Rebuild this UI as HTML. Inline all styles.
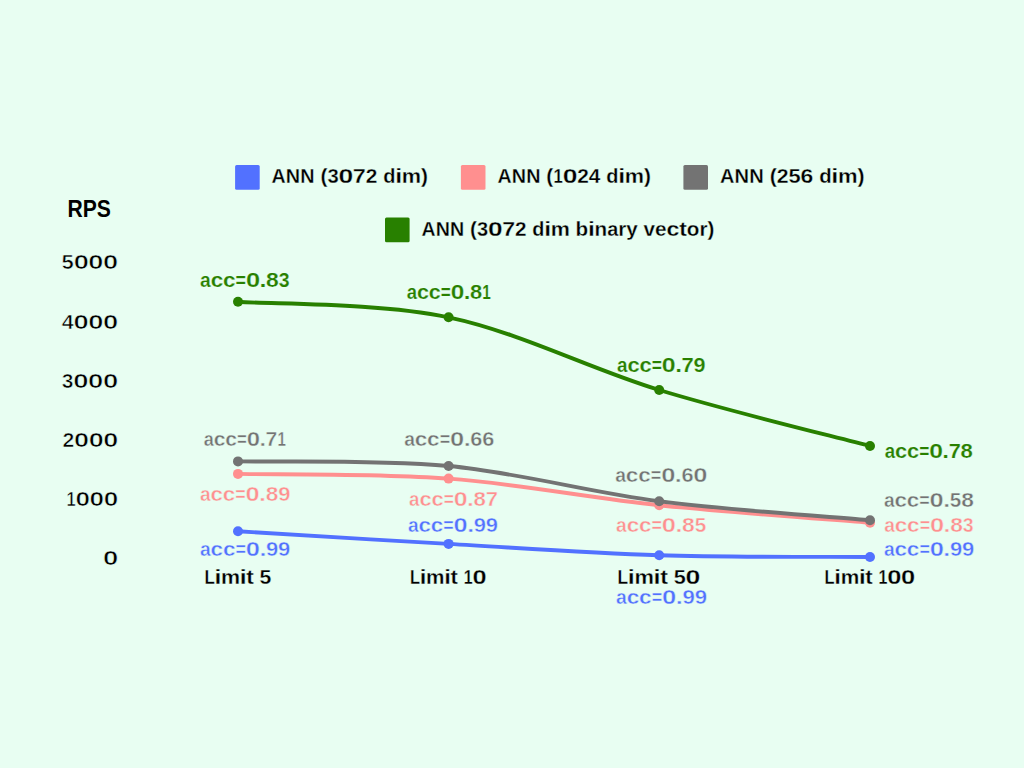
<!DOCTYPE html>
<html><head><meta charset="utf-8"><style>
html,body{margin:0;padding:0;background:#E8FEF2;width:1024px;height:768px;overflow:hidden}
svg{display:block}
text{font-family:"Liberation Sans",sans-serif}
</style></head><body>
<svg width="1024" height="768" viewBox="0 0 1024 768">
<rect width="1024" height="768" fill="#E8FEF2"/>
<rect x="235.1" y="165.0" width="24.6" height="24.7" rx="1.5" fill="#5271FF"/>
<rect x="460.9" y="165.0" width="24.6" height="24.7" rx="1.5" fill="#FF8F8F"/>
<rect x="683.4" y="165.0" width="24.6" height="24.7" rx="1.5" fill="#737373"/>
<rect x="385.0" y="217.6" width="24.6" height="24.7" rx="1.5" fill="#288000"/>
<text y="182.90" font-size="20.4" font-weight="bold" fill="#000000" stroke="#E8FEF2" stroke-width="0.3"><tspan x="271.56" textLength="14.16" lengthAdjust="spacingAndGlyphs">A</tspan><tspan x="285.83" textLength="14.31" lengthAdjust="spacingAndGlyphs">N</tspan><tspan x="300.28" textLength="14.31" lengthAdjust="spacingAndGlyphs">N</tspan> <tspan x="320.46" textLength="6.95" lengthAdjust="spacingAndGlyphs">(</tspan><tspan x="327.42" textLength="11.26" lengthAdjust="spacingAndGlyphs">3</tspan><tspan x="338.48" textLength="14.74" lengthAdjust="spacingAndGlyphs">0</tspan><tspan x="352.88" textLength="13.00" lengthAdjust="spacingAndGlyphs">7</tspan><tspan x="365.76" textLength="11.60" lengthAdjust="spacingAndGlyphs">2</tspan> <tspan x="383.20" textLength="12.23" lengthAdjust="spacingAndGlyphs">d</tspan><tspan x="395.19" textLength="6.96" lengthAdjust="spacingAndGlyphs">i</tspan><tspan x="401.80" textLength="19.29" lengthAdjust="spacingAndGlyphs">m</tspan><tspan x="421.04" textLength="6.95" lengthAdjust="spacingAndGlyphs">)</tspan></text>
<text y="182.90" font-size="20.4" font-weight="bold" fill="#000000" stroke="#E8FEF2" stroke-width="0.3"><tspan x="497.56" textLength="14.14" lengthAdjust="spacingAndGlyphs">A</tspan><tspan x="511.80" textLength="14.29" lengthAdjust="spacingAndGlyphs">N</tspan><tspan x="526.23" textLength="14.29" lengthAdjust="spacingAndGlyphs">N</tspan> <tspan x="546.37" textLength="6.93" lengthAdjust="spacingAndGlyphs">(</tspan><tspan x="553.56" textLength="9.26" lengthAdjust="spacingAndGlyphs">1</tspan><tspan x="562.72" textLength="14.71" lengthAdjust="spacingAndGlyphs">0</tspan><tspan x="577.20" textLength="11.58" lengthAdjust="spacingAndGlyphs">2</tspan><tspan x="588.78" textLength="11.58" lengthAdjust="spacingAndGlyphs">4</tspan> <tspan x="606.18" textLength="12.21" lengthAdjust="spacingAndGlyphs">d</tspan><tspan x="618.16" textLength="6.94" lengthAdjust="spacingAndGlyphs">i</tspan><tspan x="624.75" textLength="19.26" lengthAdjust="spacingAndGlyphs">m</tspan><tspan x="643.95" textLength="6.93" lengthAdjust="spacingAndGlyphs">)</tspan></text>
<text y="182.90" font-size="20.4" font-weight="bold" fill="#000000" stroke="#E8FEF2" stroke-width="0.3"><tspan x="719.95" textLength="14.40" lengthAdjust="spacingAndGlyphs">A</tspan><tspan x="734.46" textLength="14.55" lengthAdjust="spacingAndGlyphs">N</tspan><tspan x="749.15" textLength="14.55" lengthAdjust="spacingAndGlyphs">N</tspan> <tspan x="769.66" textLength="7.06" lengthAdjust="spacingAndGlyphs">(</tspan><tspan x="776.72" textLength="11.80" lengthAdjust="spacingAndGlyphs">2</tspan><tspan x="788.50" textLength="12.15" lengthAdjust="spacingAndGlyphs">5</tspan><tspan x="800.57" textLength="12.74" lengthAdjust="spacingAndGlyphs">6</tspan> <tspan x="819.17" textLength="12.44" lengthAdjust="spacingAndGlyphs">d</tspan><tspan x="831.37" textLength="7.07" lengthAdjust="spacingAndGlyphs">i</tspan><tspan x="838.08" textLength="19.61" lengthAdjust="spacingAndGlyphs">m</tspan><tspan x="857.64" textLength="7.06" lengthAdjust="spacingAndGlyphs">)</tspan></text>
<text y="235.90" font-size="20.4" font-weight="bold" fill="#000000" stroke="#E8FEF2" stroke-width="0.3"><tspan x="421.57" textLength="14.05" lengthAdjust="spacingAndGlyphs">A</tspan><tspan x="435.72" textLength="14.20" lengthAdjust="spacingAndGlyphs">N</tspan><tspan x="450.06" textLength="14.20" lengthAdjust="spacingAndGlyphs">N</tspan> <tspan x="470.08" textLength="6.89" lengthAdjust="spacingAndGlyphs">(</tspan><tspan x="476.99" textLength="11.17" lengthAdjust="spacingAndGlyphs">3</tspan><tspan x="487.95" textLength="14.62" lengthAdjust="spacingAndGlyphs">0</tspan><tspan x="502.24" textLength="12.89" lengthAdjust="spacingAndGlyphs">7</tspan><tspan x="515.02" textLength="11.51" lengthAdjust="spacingAndGlyphs">2</tspan> <tspan x="532.32" textLength="12.14" lengthAdjust="spacingAndGlyphs">d</tspan><tspan x="544.22" textLength="6.90" lengthAdjust="spacingAndGlyphs">i</tspan><tspan x="550.78" textLength="19.14" lengthAdjust="spacingAndGlyphs">m</tspan> <tspan x="575.62" textLength="12.64" lengthAdjust="spacingAndGlyphs">b</tspan><tspan x="587.97" textLength="6.90" lengthAdjust="spacingAndGlyphs">i</tspan><tspan x="594.58" textLength="12.64" lengthAdjust="spacingAndGlyphs">n</tspan><tspan x="607.25" textLength="11.05" lengthAdjust="spacingAndGlyphs">a</tspan><tspan x="618.29" textLength="8.06" lengthAdjust="spacingAndGlyphs">r</tspan><tspan x="626.35" textLength="11.51" lengthAdjust="spacingAndGlyphs">y</tspan> <tspan x="643.61" textLength="11.51" lengthAdjust="spacingAndGlyphs">v</tspan><tspan x="655.12" textLength="11.51" lengthAdjust="spacingAndGlyphs">e</tspan><tspan x="666.54" textLength="12.89" lengthAdjust="spacingAndGlyphs">c</tspan><tspan x="679.33" textLength="7.58" lengthAdjust="spacingAndGlyphs">t</tspan><tspan x="686.89" textLength="12.64" lengthAdjust="spacingAndGlyphs">o</tspan><tspan x="699.53" textLength="8.06" lengthAdjust="spacingAndGlyphs">r</tspan><tspan x="707.59" textLength="6.89" lengthAdjust="spacingAndGlyphs">)</tspan></text>
<text y="217.10" font-size="24.5" font-weight="bold" fill="#000000"><tspan x="67.49" textLength="15.26" lengthAdjust="spacingAndGlyphs">R</tspan><tspan x="82.74" textLength="14.09" lengthAdjust="spacingAndGlyphs">P</tspan><tspan x="96.83" textLength="14.09" lengthAdjust="spacingAndGlyphs">S</tspan></text>
<text y="268.60" font-size="20.6" font-weight="bold" fill="#000000" stroke="#E8FEF2" stroke-width="0.6"><tspan x="61.62" textLength="12.30" lengthAdjust="spacingAndGlyphs">5</tspan><tspan x="73.67" textLength="15.16" lengthAdjust="spacingAndGlyphs">0</tspan><tspan x="88.36" textLength="15.16" lengthAdjust="spacingAndGlyphs">0</tspan><tspan x="103.06" textLength="15.16" lengthAdjust="spacingAndGlyphs">0</tspan></text>
<text y="329.10" font-size="20.6" font-weight="bold" fill="#000000" stroke="#E8FEF2" stroke-width="0.6"><tspan x="61.67" textLength="12.00" lengthAdjust="spacingAndGlyphs">4</tspan><tspan x="73.44" textLength="15.24" lengthAdjust="spacingAndGlyphs">0</tspan><tspan x="88.21" textLength="15.24" lengthAdjust="spacingAndGlyphs">0</tspan><tspan x="102.98" textLength="15.24" lengthAdjust="spacingAndGlyphs">0</tspan></text>
<text y="388.00" font-size="20.6" font-weight="bold" fill="#000000" stroke="#E8FEF2" stroke-width="0.6"><tspan x="61.72" textLength="11.70" lengthAdjust="spacingAndGlyphs">3</tspan><tspan x="73.21" textLength="15.32" lengthAdjust="spacingAndGlyphs">0</tspan><tspan x="88.06" textLength="15.32" lengthAdjust="spacingAndGlyphs">0</tspan><tspan x="102.91" textLength="15.32" lengthAdjust="spacingAndGlyphs">0</tspan></text>
<text y="447.10" font-size="20.6" font-weight="bold" fill="#000000" stroke="#E8FEF2" stroke-width="0.6"><tspan x="62.46" textLength="11.85" lengthAdjust="spacingAndGlyphs">2</tspan><tspan x="74.08" textLength="15.05" lengthAdjust="spacingAndGlyphs">0</tspan><tspan x="88.67" textLength="15.05" lengthAdjust="spacingAndGlyphs">0</tspan><tspan x="103.26" textLength="15.05" lengthAdjust="spacingAndGlyphs">0</tspan></text>
<text y="505.90" font-size="20.6" font-weight="bold" fill="#000000" stroke="#E8FEF2" stroke-width="0.6"><tspan x="66.46" textLength="9.16" lengthAdjust="spacingAndGlyphs">1</tspan><tspan x="75.52" textLength="14.55" lengthAdjust="spacingAndGlyphs">0</tspan><tspan x="89.62" textLength="14.55" lengthAdjust="spacingAndGlyphs">0</tspan><tspan x="103.72" textLength="14.55" lengthAdjust="spacingAndGlyphs">0</tspan></text>
<text y="564.80" font-size="20.6" font-weight="bold" fill="#000000" stroke="#E8FEF2" stroke-width="0.6"><tspan x="103.01" textLength="15.32" lengthAdjust="spacingAndGlyphs">0</tspan></text>
<text y="583.90" font-size="20.9" font-weight="bold" fill="#000000" stroke="#E8FEF2" stroke-width="0.3"><tspan x="204.42" textLength="10.33" lengthAdjust="spacingAndGlyphs">L</tspan><tspan x="214.57" textLength="6.88" lengthAdjust="spacingAndGlyphs">i</tspan><tspan x="221.10" textLength="19.07" lengthAdjust="spacingAndGlyphs">m</tspan><tspan x="239.83" textLength="6.88" lengthAdjust="spacingAndGlyphs">i</tspan><tspan x="246.39" textLength="7.55" lengthAdjust="spacingAndGlyphs">t</tspan> <tspan x="259.63" textLength="11.81" lengthAdjust="spacingAndGlyphs">5</tspan></text>
<text y="583.90" font-size="20.9" font-weight="bold" fill="#000000" stroke="#E8FEF2" stroke-width="0.3"><tspan x="409.96" textLength="9.99" lengthAdjust="spacingAndGlyphs">L</tspan><tspan x="419.78" textLength="6.65" lengthAdjust="spacingAndGlyphs">i</tspan><tspan x="426.09" textLength="18.44" lengthAdjust="spacingAndGlyphs">m</tspan><tspan x="444.21" textLength="6.65" lengthAdjust="spacingAndGlyphs">i</tspan><tspan x="450.55" textLength="7.31" lengthAdjust="spacingAndGlyphs">t</tspan> <tspan x="463.63" textLength="8.87" lengthAdjust="spacingAndGlyphs">1</tspan><tspan x="472.40" textLength="14.09" lengthAdjust="spacingAndGlyphs">0</tspan></text>
<text y="583.80" font-size="20.9" font-weight="bold" fill="#000000" stroke="#E8FEF2" stroke-width="0.3"><tspan x="617.45" textLength="10.53" lengthAdjust="spacingAndGlyphs">L</tspan><tspan x="627.80" textLength="7.01" lengthAdjust="spacingAndGlyphs">i</tspan><tspan x="634.45" textLength="19.43" lengthAdjust="spacingAndGlyphs">m</tspan><tspan x="653.53" textLength="7.01" lengthAdjust="spacingAndGlyphs">i</tspan><tspan x="660.22" textLength="7.70" lengthAdjust="spacingAndGlyphs">t</tspan> <tspan x="673.71" textLength="12.04" lengthAdjust="spacingAndGlyphs">5</tspan><tspan x="685.50" textLength="14.84" lengthAdjust="spacingAndGlyphs">0</tspan></text>
<text y="584.00" font-size="20.9" font-weight="bold" fill="#000000" stroke="#E8FEF2" stroke-width="0.3"><tspan x="824.45" textLength="10.05" lengthAdjust="spacingAndGlyphs">L</tspan><tspan x="834.33" textLength="6.69" lengthAdjust="spacingAndGlyphs">i</tspan><tspan x="840.69" textLength="18.56" lengthAdjust="spacingAndGlyphs">m</tspan><tspan x="858.92" textLength="6.69" lengthAdjust="spacingAndGlyphs">i</tspan><tspan x="865.30" textLength="7.35" lengthAdjust="spacingAndGlyphs">t</tspan> <tspan x="878.45" textLength="8.93" lengthAdjust="spacingAndGlyphs">1</tspan><tspan x="887.28" textLength="14.18" lengthAdjust="spacingAndGlyphs">0</tspan><tspan x="901.02" textLength="14.18" lengthAdjust="spacingAndGlyphs">0</tspan></text>
<text y="286.80" font-size="19.4" font-weight="bold" fill="#288000" stroke="#E8FEF2" stroke-width="0.2"><tspan x="200.03" textLength="10.73" lengthAdjust="spacingAndGlyphs">a</tspan><tspan x="210.67" textLength="12.52" lengthAdjust="spacingAndGlyphs">c</tspan><tspan x="223.03" textLength="12.52" lengthAdjust="spacingAndGlyphs">c</tspan><tspan x="235.57" textLength="10.45" lengthAdjust="spacingAndGlyphs">=</tspan><tspan x="245.90" textLength="14.20" lengthAdjust="spacingAndGlyphs">0</tspan><tspan x="259.54" textLength="6.98" lengthAdjust="spacingAndGlyphs">.</tspan><tspan x="266.08" textLength="12.75" lengthAdjust="spacingAndGlyphs">8</tspan><tspan x="278.76" textLength="10.85" lengthAdjust="spacingAndGlyphs">3</tspan></text>
<text y="298.90" font-size="19.4" font-weight="bold" fill="#288000" stroke="#E8FEF2" stroke-width="0.2"><tspan x="406.76" textLength="10.28" lengthAdjust="spacingAndGlyphs">a</tspan><tspan x="416.94" textLength="11.99" lengthAdjust="spacingAndGlyphs">c</tspan><tspan x="428.77" textLength="11.99" lengthAdjust="spacingAndGlyphs">c</tspan><tspan x="440.79" textLength="10.01" lengthAdjust="spacingAndGlyphs">=</tspan><tspan x="450.67" textLength="13.60" lengthAdjust="spacingAndGlyphs">0</tspan><tspan x="463.73" textLength="6.69" lengthAdjust="spacingAndGlyphs">.</tspan><tspan x="470.00" textLength="12.21" lengthAdjust="spacingAndGlyphs">8</tspan><tspan x="482.36" textLength="8.57" lengthAdjust="spacingAndGlyphs">1</tspan></text>
<text y="371.80" font-size="19.4" font-weight="bold" fill="#288000" stroke="#E8FEF2" stroke-width="0.2"><tspan x="617.05" textLength="10.48" lengthAdjust="spacingAndGlyphs">a</tspan><tspan x="627.43" textLength="12.23" lengthAdjust="spacingAndGlyphs">c</tspan><tspan x="639.50" textLength="12.23" lengthAdjust="spacingAndGlyphs">c</tspan><tspan x="651.75" textLength="10.20" lengthAdjust="spacingAndGlyphs">=</tspan><tspan x="661.84" textLength="13.87" lengthAdjust="spacingAndGlyphs">0</tspan><tspan x="675.15" textLength="6.82" lengthAdjust="spacingAndGlyphs">.</tspan><tspan x="681.53" textLength="12.23" lengthAdjust="spacingAndGlyphs">7</tspan><tspan x="693.59" textLength="12.01" lengthAdjust="spacingAndGlyphs">9</tspan></text>
<text y="457.70" font-size="19.4" font-weight="bold" fill="#288000" stroke="#E8FEF2" stroke-width="0.2"><tspan x="884.75" textLength="10.40" lengthAdjust="spacingAndGlyphs">a</tspan><tspan x="895.05" textLength="12.13" lengthAdjust="spacingAndGlyphs">c</tspan><tspan x="907.02" textLength="12.13" lengthAdjust="spacingAndGlyphs">c</tspan><tspan x="919.17" textLength="10.12" lengthAdjust="spacingAndGlyphs">=</tspan><tspan x="929.17" textLength="13.75" lengthAdjust="spacingAndGlyphs">0</tspan><tspan x="942.37" textLength="6.76" lengthAdjust="spacingAndGlyphs">.</tspan><tspan x="948.70" textLength="12.13" lengthAdjust="spacingAndGlyphs">7</tspan><tspan x="960.64" textLength="12.34" lengthAdjust="spacingAndGlyphs">8</tspan></text>
<text y="445.90" font-size="19.4" font-weight="bold" fill="#737373" stroke="#E8FEF2" stroke-width="0.4"><tspan x="203.67" textLength="10.07" lengthAdjust="spacingAndGlyphs">a</tspan><tspan x="213.65" textLength="11.75" lengthAdjust="spacingAndGlyphs">c</tspan><tspan x="225.25" textLength="11.75" lengthAdjust="spacingAndGlyphs">c</tspan><tspan x="237.02" textLength="9.81" lengthAdjust="spacingAndGlyphs">=</tspan><tspan x="246.71" textLength="13.33" lengthAdjust="spacingAndGlyphs">0</tspan><tspan x="259.51" textLength="6.55" lengthAdjust="spacingAndGlyphs">.</tspan><tspan x="265.64" textLength="11.75" lengthAdjust="spacingAndGlyphs">7</tspan><tspan x="277.53" textLength="8.39" lengthAdjust="spacingAndGlyphs">1</tspan></text>
<text y="445.90" font-size="19.4" font-weight="bold" fill="#737373" stroke="#E8FEF2" stroke-width="0.4"><tspan x="404.13" textLength="10.74" lengthAdjust="spacingAndGlyphs">a</tspan><tspan x="414.77" textLength="12.53" lengthAdjust="spacingAndGlyphs">c</tspan><tspan x="427.14" textLength="12.53" lengthAdjust="spacingAndGlyphs">c</tspan><tspan x="439.69" textLength="10.45" lengthAdjust="spacingAndGlyphs">=</tspan><tspan x="450.02" textLength="14.21" lengthAdjust="spacingAndGlyphs">0</tspan><tspan x="463.66" textLength="6.99" lengthAdjust="spacingAndGlyphs">.</tspan><tspan x="470.24" textLength="12.08" lengthAdjust="spacingAndGlyphs">6</tspan><tspan x="482.20" textLength="12.08" lengthAdjust="spacingAndGlyphs">6</tspan></text>
<text y="481.60" font-size="19.4" font-weight="bold" fill="#737373" stroke="#E8FEF2" stroke-width="0.4"><tspan x="615.23" textLength="10.75" lengthAdjust="spacingAndGlyphs">a</tspan><tspan x="625.88" textLength="12.54" lengthAdjust="spacingAndGlyphs">c</tspan><tspan x="638.26" textLength="12.54" lengthAdjust="spacingAndGlyphs">c</tspan><tspan x="650.82" textLength="10.46" lengthAdjust="spacingAndGlyphs">=</tspan><tspan x="661.16" textLength="14.22" lengthAdjust="spacingAndGlyphs">0</tspan><tspan x="674.82" textLength="6.99" lengthAdjust="spacingAndGlyphs">.</tspan><tspan x="681.41" textLength="12.09" lengthAdjust="spacingAndGlyphs">6</tspan><tspan x="693.23" textLength="14.22" lengthAdjust="spacingAndGlyphs">0</tspan></text>
<text y="506.80" font-size="19.4" font-weight="bold" fill="#737373" stroke="#E8FEF2" stroke-width="0.4"><tspan x="883.94" textLength="10.70" lengthAdjust="spacingAndGlyphs">a</tspan><tspan x="894.53" textLength="12.48" lengthAdjust="spacingAndGlyphs">c</tspan><tspan x="906.85" textLength="12.48" lengthAdjust="spacingAndGlyphs">c</tspan><tspan x="919.35" textLength="10.41" lengthAdjust="spacingAndGlyphs">=</tspan><tspan x="929.64" textLength="14.15" lengthAdjust="spacingAndGlyphs">0</tspan><tspan x="943.23" textLength="6.96" lengthAdjust="spacingAndGlyphs">.</tspan><tspan x="949.83" textLength="11.48" lengthAdjust="spacingAndGlyphs">5</tspan><tspan x="961.20" textLength="12.70" lengthAdjust="spacingAndGlyphs">8</tspan></text>
<text y="500.70" font-size="19.4" font-weight="bold" fill="#FF8F8F" stroke="#E8FEF2" stroke-width="0.4"><tspan x="199.94" textLength="10.68" lengthAdjust="spacingAndGlyphs">a</tspan><tspan x="210.52" textLength="12.46" lengthAdjust="spacingAndGlyphs">c</tspan><tspan x="222.81" textLength="12.46" lengthAdjust="spacingAndGlyphs">c</tspan><tspan x="235.30" textLength="10.40" lengthAdjust="spacingAndGlyphs">=</tspan><tspan x="245.57" textLength="14.13" lengthAdjust="spacingAndGlyphs">0</tspan><tspan x="259.14" textLength="6.95" lengthAdjust="spacingAndGlyphs">.</tspan><tspan x="265.65" textLength="12.68" lengthAdjust="spacingAndGlyphs">8</tspan><tspan x="278.18" textLength="12.24" lengthAdjust="spacingAndGlyphs">9</tspan></text>
<text y="505.50" font-size="19.4" font-weight="bold" fill="#FF8F8F" stroke="#E8FEF2" stroke-width="0.4"><tspan x="409.05" textLength="10.47" lengthAdjust="spacingAndGlyphs">a</tspan><tspan x="419.43" textLength="12.22" lengthAdjust="spacingAndGlyphs">c</tspan><tspan x="431.48" textLength="12.22" lengthAdjust="spacingAndGlyphs">c</tspan><tspan x="443.72" textLength="10.20" lengthAdjust="spacingAndGlyphs">=</tspan><tspan x="453.80" textLength="13.86" lengthAdjust="spacingAndGlyphs">0</tspan><tspan x="467.11" textLength="6.81" lengthAdjust="spacingAndGlyphs">.</tspan><tspan x="473.49" textLength="12.44" lengthAdjust="spacingAndGlyphs">8</tspan><tspan x="485.75" textLength="12.22" lengthAdjust="spacingAndGlyphs">7</tspan></text>
<text y="531.80" font-size="19.4" font-weight="bold" fill="#FF8F8F" stroke="#E8FEF2" stroke-width="0.4"><tspan x="616.03" textLength="10.73" lengthAdjust="spacingAndGlyphs">a</tspan><tspan x="626.66" textLength="12.51" lengthAdjust="spacingAndGlyphs">c</tspan><tspan x="639.01" textLength="12.51" lengthAdjust="spacingAndGlyphs">c</tspan><tspan x="651.55" textLength="10.44" lengthAdjust="spacingAndGlyphs">=</tspan><tspan x="661.87" textLength="14.19" lengthAdjust="spacingAndGlyphs">0</tspan><tspan x="675.49" textLength="6.98" lengthAdjust="spacingAndGlyphs">.</tspan><tspan x="682.03" textLength="12.74" lengthAdjust="spacingAndGlyphs">8</tspan><tspan x="694.67" textLength="11.51" lengthAdjust="spacingAndGlyphs">5</tspan></text>
<text y="531.70" font-size="19.4" font-weight="bold" fill="#FF8F8F" stroke="#E8FEF2" stroke-width="0.4"><tspan x="884.13" textLength="10.73" lengthAdjust="spacingAndGlyphs">a</tspan><tspan x="894.77" textLength="12.52" lengthAdjust="spacingAndGlyphs">c</tspan><tspan x="907.13" textLength="12.52" lengthAdjust="spacingAndGlyphs">c</tspan><tspan x="919.67" textLength="10.45" lengthAdjust="spacingAndGlyphs">=</tspan><tspan x="930.00" textLength="14.20" lengthAdjust="spacingAndGlyphs">0</tspan><tspan x="943.64" textLength="6.98" lengthAdjust="spacingAndGlyphs">.</tspan><tspan x="950.18" textLength="12.75" lengthAdjust="spacingAndGlyphs">8</tspan><tspan x="962.86" textLength="10.85" lengthAdjust="spacingAndGlyphs">3</tspan></text>
<text y="555.50" font-size="19.4" font-weight="bold" fill="#5271FF" stroke="#E8FEF2" stroke-width="0.4"><tspan x="199.93" textLength="10.73" lengthAdjust="spacingAndGlyphs">a</tspan><tspan x="210.57" textLength="12.52" lengthAdjust="spacingAndGlyphs">c</tspan><tspan x="222.92" textLength="12.52" lengthAdjust="spacingAndGlyphs">c</tspan><tspan x="235.46" textLength="10.45" lengthAdjust="spacingAndGlyphs">=</tspan><tspan x="245.78" textLength="14.19" lengthAdjust="spacingAndGlyphs">0</tspan><tspan x="259.41" textLength="6.98" lengthAdjust="spacingAndGlyphs">.</tspan><tspan x="265.98" textLength="12.29" lengthAdjust="spacingAndGlyphs">9</tspan><tspan x="278.13" textLength="12.29" lengthAdjust="spacingAndGlyphs">9</tspan></text>
<text y="531.70" font-size="19.4" font-weight="bold" fill="#5271FF" stroke="#E8FEF2" stroke-width="0.4"><tspan x="407.99" textLength="10.68" lengthAdjust="spacingAndGlyphs">a</tspan><tspan x="418.56" textLength="12.46" lengthAdjust="spacingAndGlyphs">c</tspan><tspan x="430.86" textLength="12.46" lengthAdjust="spacingAndGlyphs">c</tspan><tspan x="443.33" textLength="10.39" lengthAdjust="spacingAndGlyphs">=</tspan><tspan x="453.60" textLength="14.12" lengthAdjust="spacingAndGlyphs">0</tspan><tspan x="467.16" textLength="6.94" lengthAdjust="spacingAndGlyphs">.</tspan><tspan x="473.69" textLength="12.23" lengthAdjust="spacingAndGlyphs">9</tspan><tspan x="485.78" textLength="12.23" lengthAdjust="spacingAndGlyphs">9</tspan></text>
<text y="603.80" font-size="19.4" font-weight="bold" fill="#5271FF" stroke="#E8FEF2" stroke-width="0.4"><tspan x="616.03" textLength="10.79" lengthAdjust="spacingAndGlyphs">a</tspan><tspan x="626.72" textLength="12.59" lengthAdjust="spacingAndGlyphs">c</tspan><tspan x="639.14" textLength="12.59" lengthAdjust="spacingAndGlyphs">c</tspan><tspan x="651.75" textLength="10.50" lengthAdjust="spacingAndGlyphs">=</tspan><tspan x="662.13" textLength="14.27" lengthAdjust="spacingAndGlyphs">0</tspan><tspan x="675.84" textLength="7.02" lengthAdjust="spacingAndGlyphs">.</tspan><tspan x="682.44" textLength="12.36" lengthAdjust="spacingAndGlyphs">9</tspan><tspan x="694.66" textLength="12.36" lengthAdjust="spacingAndGlyphs">9</tspan></text>
<text y="555.90" font-size="19.4" font-weight="bold" fill="#5271FF" stroke="#E8FEF2" stroke-width="0.4"><tspan x="883.94" textLength="10.72" lengthAdjust="spacingAndGlyphs">a</tspan><tspan x="894.55" textLength="12.50" lengthAdjust="spacingAndGlyphs">c</tspan><tspan x="906.89" textLength="12.50" lengthAdjust="spacingAndGlyphs">c</tspan><tspan x="919.42" textLength="10.43" lengthAdjust="spacingAndGlyphs">=</tspan><tspan x="929.73" textLength="14.18" lengthAdjust="spacingAndGlyphs">0</tspan><tspan x="943.34" textLength="6.97" lengthAdjust="spacingAndGlyphs">.</tspan><tspan x="949.90" textLength="12.28" lengthAdjust="spacingAndGlyphs">9</tspan><tspan x="962.04" textLength="12.28" lengthAdjust="spacingAndGlyphs">9</tspan></text>
<path d="M238.00,531.30 C273.10,533.40 378.40,539.92 448.60,543.90 C518.80,547.88 588.97,553.02 659.20,555.20 C729.43,557.38 834.87,556.70 870.00,557.00" fill="none" stroke="#5271FF" stroke-width="3.9" stroke-linecap="round"/>
<circle cx="238.0" cy="531.3" r="5.0" fill="#5271FF"/>
<circle cx="448.6" cy="543.9" r="5.0" fill="#5271FF"/>
<circle cx="659.2" cy="555.2" r="5.0" fill="#5271FF"/>
<circle cx="870.0" cy="557.0" r="5.0" fill="#5271FF"/>
<path d="M238.00,473.90 C273.10,474.68 378.40,473.38 448.60,478.60 C518.80,483.82 588.97,497.83 659.20,505.20 C729.43,512.57 834.87,519.87 870.00,522.80" fill="none" stroke="#FF8F8F" stroke-width="3.9" stroke-linecap="round"/>
<circle cx="238.0" cy="473.9" r="5.0" fill="#FF8F8F"/>
<circle cx="448.6" cy="478.6" r="5.0" fill="#FF8F8F"/>
<circle cx="659.2" cy="505.2" r="5.0" fill="#FF8F8F"/>
<circle cx="870.0" cy="522.8" r="5.0" fill="#FF8F8F"/>
<path d="M238.00,461.40 C273.10,462.17 378.40,459.37 448.60,466.00 C518.80,472.63 588.97,492.15 659.20,501.20 C729.43,510.25 834.87,517.12 870.00,520.30" fill="none" stroke="#737373" stroke-width="3.9" stroke-linecap="round"/>
<circle cx="238.0" cy="461.4" r="5.0" fill="#737373"/>
<circle cx="448.6" cy="466.0" r="5.0" fill="#737373"/>
<circle cx="659.2" cy="501.2" r="5.0" fill="#737373"/>
<circle cx="870.0" cy="520.3" r="5.0" fill="#737373"/>
<path d="M238.00,301.80 C273.10,304.38 378.40,302.60 448.60,317.30 C518.80,332.00 588.97,368.55 659.20,390.00 C729.43,411.45 834.87,436.67 870.00,446.00" fill="none" stroke="#288000" stroke-width="3.9" stroke-linecap="round"/>
<circle cx="238.0" cy="301.8" r="5.0" fill="#288000"/>
<circle cx="448.6" cy="317.3" r="5.0" fill="#288000"/>
<circle cx="659.2" cy="390.0" r="5.0" fill="#288000"/>
<circle cx="870.0" cy="446.0" r="5.0" fill="#288000"/>
</svg>
</body></html>
